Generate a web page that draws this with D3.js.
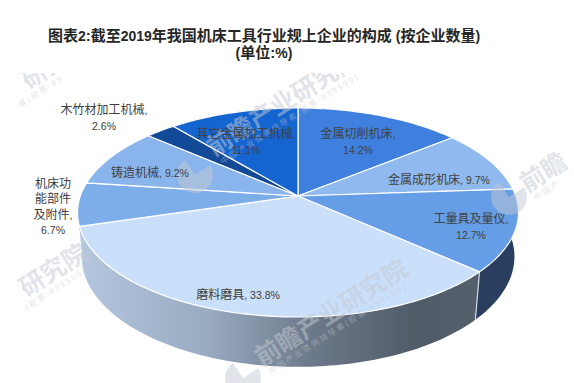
<!DOCTYPE html>
<html>
<head>
<meta charset="utf-8">
<script src="https://cdn.jsdelivr.net/npm/d3@7"></script>
<style>
html, body { margin: 0; padding: 0; background: #fff; }
svg { display: block; }
text { font-family: "Liberation Sans", "Noto Sans CJK SC", sans-serif; }
</style>
</head>
<body>
<svg width="574" height="383"></svg>
<script>
var categories = ["金属切削机床", "金属成形机床", "工量具及量仪", "磨料磨具", "机床功能部件及附件", "铸造机械", "木竹材加工机械", "其它金属加工机械"];
var shares = [14.2, 9.7, 12.7, 33.8, 6.7, 9.2, 2.6, 11.1];
var topColors = ["#3f80de", "#8fb9ef", "#659de6", "#c9dffa", "#7eaeea", "#8ab5ec", "#134a98", "#1565d0"];
var sideColors = ["#26497f", "#5a7597", "#2a3f60", "url(#wall)", "#b9cbe2", "#5a7597", "#10305f", "#123d7c"];

// label lines and where each block is centred
var labelLines = [
    ["金属切削机床,", "14.2%"],
    ["金属成形机床, 9.7%"],
    ["工量具及量仪,", "12.7%"],
    ["磨料磨具, 33.8%"],
    ["机床功", "能部件", "及附件,", "6.7%"],
    ["铸造机械, 9.2%"],
    ["木竹材加工机械,", "2.6%"],
    ["其它金属加工机械,", "11.1%"]
];
var labelAnchors = [[358, 140], [439, 178], [471, 225], [238, 293], [53, 205], [150, 171], [104, 116], [246, 140]];
var titleLines = ["图表2:截至2019年我国机床工具行业规上企业的构成 (按企业数量)", "(单位:%)"];

var svg = d3.select("svg");

var defs = svg.append("defs");
var wall = defs.append("linearGradient")
    .attr("id", "wall")
    .attr("gradientUnits", "userSpaceOnUse")
    .attr("x1", 80).attr("x2", 476)
    .attr("y1", 0).attr("y2", 0);
wall.append("stop").attr("offset", "0").attr("stop-color", "#b4c7de");
wall.append("stop").attr("offset", "0.33").attr("stop-color", "#98aac0");
wall.append("stop").attr("offset", "0.58").attr("stop-color", "#6d7a8b");
wall.append("stop").attr("offset", "0.85").attr("stop-color", "#505b68");
wall.append("stop").attr("offset", "1").attr("stop-color", "#545f6c");

// watermark stops where the white title band begins
defs.append("clipPath").attr("id", "band")
    .append("rect")
    .attr("x", 0).attr("y", 73)
    .attr("width", 574).attr("height", 310);

// perspective projection of the top and bottom discs
var topDisc = {cx: 298, cy: 196, a: 217.7, b: 101.9, k: 0.158};
var bottomDisc = {cx: 298, cy: 240, a: 214, b: 107.8, k: 0.15};

var project = function(disc, angle) {
    let u = Math.sin(angle);
    let v = -Math.cos(angle);
    let w = 1 - disc.k * v;
    return [disc.cx + disc.a * u / w, disc.cy + disc.b * v / w];
};

var rim = function(disc, start, end) {
    let n = Math.max(2, Math.ceil((end - start) / 0.02));
    return d3.range(n + 1).map(function(i) {
        return project(disc, start + (end - start) * i / n);
    });
};

var line = d3.line();

// digits and latin marks use a smaller size than the chinese text
var writeMixed = function(sel, str, cjkSize, latinSize) {
    str.split(/([0-9.,%() ]+)/).forEach(function(part) {
        if (part === "") {
            return;
        }
        sel.append("tspan")
            .attr("font-size", /^[0-9.,%() ]+$/.test(part) ? latinSize : cjkSize)
            .attr("xml:space", "preserve")
            .text(part);
    });
};

var slices = d3.pie().sort(null)(shares);

var plot = svg.append("g").attr("id", "plot");

// side wall first, the top surface covers the back half of it
plot.selectAll("path.side")
    .data(slices)
    .enter().append("path")
    .attr("class", "side")
    .attr("fill", function(d, i) { return sideColors[i]; })
    .attr("d", function(d) {
        let upper = rim(topDisc, d.startAngle, d.endAngle);
        let lower = rim(bottomDisc, d.startAngle, d.endAngle).reverse();
        return line(upper.concat(lower)) + "Z";
    });

// pale seam where the two front wall colours meet
var seamAngle = slices[3].startAngle;
plot.append("path")
    .attr("d", line([project(topDisc, seamAngle), project(bottomDisc, seamAngle)]))
    .attr("stroke", "#d5dae0")
    .attr("stroke-width", 1.2);

plot.selectAll("path.top")
    .data(slices)
    .enter().append("path")
    .attr("class", "top")
    .attr("fill", function(d, i) { return topColors[i]; })
    .attr("stroke", "#fff")
    .attr("stroke-width", 1.2)
    .attr("stroke-linejoin", "round")
    .attr("d", function(d) {
        let centre = [topDisc.cx, topDisc.cy];
        return line([centre].concat(rim(topDisc, d.startAngle, d.endAngle))) + "Z";
    });

// watermark, only the pieces that show inside the picture
var marks = svg.append("g").attr("id", "watermark").attr("clip-path", "url(#band)");
var markFill = "#c4c9d1";
var markTiles = [
    {x: 262, y: 367, main: "前瞻产业研究院", mainFrom: 0, small: "中国产业咨询领导者(股票:839599)", smallFrom: 0, logo: [243, 378]},
    {x: -58, y: 351, main: "研究院", mainFrom: 4, small: "(股票:839599)", smallFrom: 9},
    {x: 527, y: 193, main: "前瞻", mainFrom: 0, small: "中国产", smallFrom: 0, logo: [509, 197]},
    {x: 214, y: 157, main: "前瞻产业研究院", mainFrom: 0, small: "中国产业咨询领导者(股票:839599)", smallFrom: 0, logo: [195, 175]},
    {x: -56, y: 143, main: "研究", mainFrom: 4, small: "者(股票:83", smallFrom: 8}
];
var logoShape = d3.arc().innerRadius(0).outerRadius(18).startAngle(1.0).endAngle(5.7);

markTiles.forEach(function(m) {
    let tile = marks.append("g")
        .attr("transform", "translate(" + m.x + "," + m.y + ") rotate(-32.4)");
    tile.append("text")
        .attr("x", m.mainFrom * 25)
        .attr("font-size", 25)
        .attr("font-weight", 700)
        .attr("fill", markFill)
        .attr("fill-opacity", 0.5)
        .text(m.main);
    tile.append("text")
        .attr("x", 3.5 + m.smallFrom * 10)
        .attr("y", 11)
        .attr("font-size", 8)
        .attr("letter-spacing", 2)
        .attr("fill", markFill)
        .attr("fill-opacity", 0.5)
        .text(m.small);
    if (m.logo) {
        marks.append("path")
            .attr("transform", "translate(" + m.logo + ")")
            .attr("d", logoShape())
            .attr("fill", markFill)
            .attr("fill-opacity", 0.5);
    }
});

// labels
var labels = svg.append("g").attr("id", "labels");
labelLines.forEach(function(lines, i) {
    let lineHeight = 15.3;
    let top = labelAnchors[i][1] - (lines.length - 1) * lineHeight / 2;
    lines.forEach(function(str, j) {
        let t = labels.append("text")
            .attr("x", labelAnchors[i][0])
            .attr("y", top + j * lineHeight)
            .attr("dy", "0.38em")
            .attr("text-anchor", "middle")
            .attr("fill", "#404040");
        writeMixed(t, str, 12, 10.5);
    });
});

// title
var title = svg.append("g").attr("id", "title");
titleLines.forEach(function(str, i) {
    let t = title.append("text")
        .attr("x", 264)
        .attr("y", 41 + i * 17)
        .attr("text-anchor", "middle")
        .attr("font-weight", 700)
        .attr("fill", "#262626");
    writeMixed(t, str, 15, 14);
});
</script>
</body>
</html>
